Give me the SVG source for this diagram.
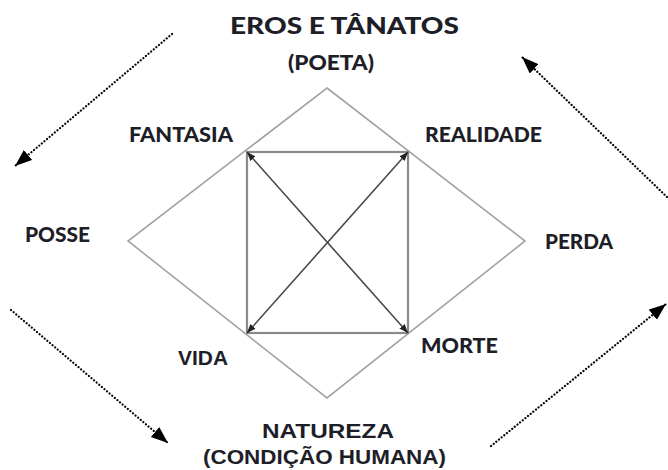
<svg xmlns="http://www.w3.org/2000/svg" width="668" height="470" viewBox="0 0 668 470">
<style>
.lbl{font-family:Lato,"Liberation Sans",Arial,sans-serif;font-weight:900;font-size:21px;fill:#1e1e28}
.ar{font-family:"Liberation Sans",Arial,sans-serif;font-weight:bold;font-size:21px}
.big{font-size:23px}
.diamond{fill:none;stroke:#a3a3a3;stroke-width:1.6}
.square{fill:none;stroke:#8a8a8a;stroke-width:2.2}
.diag{stroke:#4a4a4a;stroke-width:1.6;fill:none}
.dot{stroke:#000;stroke-width:2.2;stroke-dasharray:0.1 3.3;stroke-linecap:round;fill:none}
</style>
<defs>
<marker id="big" markerUnits="userSpaceOnUse" markerWidth="20" markerHeight="16" refX="17" refY="6.5" orient="auto" viewBox="0 0 20 16">
<path d="M0,0 L17,6.5 L0,13 z" fill="#000"/>
</marker>
<marker id="small" markerUnits="userSpaceOnUse" markerWidth="10" markerHeight="8" refX="9" refY="3.5" orient="auto-start-reverse" viewBox="0 0 10 8">
<path d="M0,0 L9,3.5 L0,7 z" fill="#222"/>
</marker>
</defs>
<rect width="668" height="470" fill="#fff"/>
<g id="shape">
<polygon class="diamond" points="327,88 525,241 327,398 128,241"/>
<rect class="square" x="247" y="152" width="161" height="181"/>
</g>
<g id="connectors">
<line class="diag" x1="247" y1="152" x2="408" y2="333" marker-start="url(#small)" marker-end="url(#small)"/>
<line class="diag" x1="408" y1="152" x2="247" y2="333" marker-start="url(#small)" marker-end="url(#small)"/>
<line class="dot" x1="172" y1="34" x2="15" y2="166" marker-end="url(#big)"/>
<line class="dot" x1="667" y1="197" x2="522" y2="57" marker-end="url(#big)"/>
<line class="dot" x1="11" y1="310" x2="168" y2="443" marker-end="url(#big)"/>
<line class="dot" x1="491" y1="446" x2="666" y2="304" marker-end="url(#big)"/>
</g>
<g id="eros"><text class="lbl big" x="230" y="34" textLength="229" lengthAdjust="spacingAndGlyphs">EROS E TÂNATOS</text></g>
<g id="poeta"><text class="lbl" x="288" y="70" textLength="86" lengthAdjust="spacingAndGlyphs">(POETA)</text></g>
<g id="fantasia"><text class="lbl" x="129" y="142" textLength="104" lengthAdjust="spacingAndGlyphs">FANTASIA</text></g>
<g id="realidade"><text class="lbl" x="425" y="142" textLength="117" lengthAdjust="spacingAndGlyphs">REALIDADE</text></g>
<g id="posse"><text class="lbl" x="25" y="242" textLength="65" lengthAdjust="spacingAndGlyphs">POSSE</text></g>
<g id="perda"><text class="lbl" x="545" y="249" textLength="68" lengthAdjust="spacingAndGlyphs">PERDA</text></g>
<g id="vida"><text class="lbl ar" x="178" y="365" textLength="50" lengthAdjust="spacingAndGlyphs">VIDA</text></g>
<g id="morte"><text class="lbl" x="421" y="353" textLength="77" lengthAdjust="spacingAndGlyphs">MORTE</text></g>
<g id="natureza"><text class="lbl ar" x="262" y="438" textLength="132" lengthAdjust="spacingAndGlyphs">NATUREZA</text></g>
<g id="condicao"><text class="lbl ar" x="203" y="464" textLength="243" lengthAdjust="spacingAndGlyphs">(CONDIÇÃO HUMANA)</text></g>
</svg>
